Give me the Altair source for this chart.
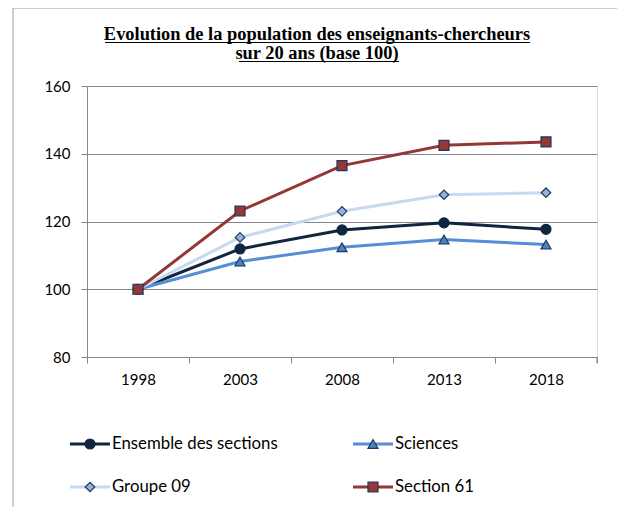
import altair as alt
import pandas as pd

years = ["1998", "2003", "2008", "2013", "2018"]
series = ["Ensemble des sections", "Sciences", "Groupe 09", "Section 61"]
ensemble = [100, 111.9, 117.5, 119.6, 117.7]
sciences = [100, 108.2, 112.4, 114.7, 113.2]
groupe09 = [100, 115.3, 123.0, 127.9, 128.5]
section61 = [100, 123.1, 136.5, 142.5, 143.5]
title_lines = ["Evolution de la population des enseignants-chercheurs",
               "sur 20 ans (base 100)"]
y_ticks = [80, 100, 120, 140, 160]

values = [ensemble, sciences, groupe09, section61]
line_colors = ["#10253f", "#558ed5", "#c6d9f1", "#953735"]
fill_colors = ["#10253f", "#4f81bd", "#95b3d7", "#953735"]
stroke_colors = ["#10253f", "#1f3864", "#1f3864", "#1f3864"]
shapes = ["circle", "triangle-up", "diamond", "square"]
sizes = [100, 100, 90, 100]

W, H = 510, 271
GRID = "#868686"
FONT = "Lato"

x_enc = alt.X("year:O", sort=years,
              scale=alt.Scale(domain=years, paddingInner=0, paddingOuter=0),
              axis=alt.Axis(title=None, labelAngle=0, tickBand="extent", grid=False,
                            domainColor=GRID, tickColor=GRID, tickSize=6,
                            labelFont=FONT, labelFontSize=15, labelColor="black",
                            labelPadding=9))
y_enc = alt.Y("value:Q", scale=alt.Scale(domain=[80, 160], nice=False, zero=False),
              axis=alt.Axis(title=None, values=y_ticks, grid=True, gridColor=GRID,
                            gridWidth=1, domainColor=GRID, tickColor=GRID, tickSize=6,
                            labelFont=FONT, labelFontSize=15, labelColor="black",
                            labelPadding=11))

layers = []

# outer frame
frame = alt.Chart(pd.DataFrame({"a": [0]})).mark_rect(
    fill=None, stroke="#a0a0a0", strokeWidth=1
).encode(x=alt.value(-74), x2=alt.value(534), y=alt.value(-78), y2=alt.value(440))
layers.append(frame)

for i, name in enumerate(series):
    df = pd.DataFrame({"year": years, "value": values[i], "series": name})
    base = alt.Chart(df)
    layers.append(base.mark_line(color=line_colors[i], strokeWidth=3).encode(x=x_enc, y=y_enc))
for i, name in enumerate(series):
    df = pd.DataFrame({"year": years, "value": values[i], "series": name})
    base = alt.Chart(df)
    layers.append(base.mark_point(shape=shapes[i], filled=True, fill=fill_colors[i],
                                  stroke=stroke_colors[i], strokeWidth=1.2, size=sizes[i],
                                  opacity=1).encode(x=x_enc, y=y_enc))

# title (text with underline rules)
tdf = pd.DataFrame({"t": title_lines, "yy": [-46, -27]})
layers.append(alt.Chart(tdf).mark_text(font="Liberation Serif", fontWeight="bold",
                                       fontSize=18.4, align="center", baseline="alphabetic",
                                       color="black").encode(
    text="t:N", x=alt.value(230), y=alt.Y("yy:Q", scale=None)))
udf = pd.DataFrame({"x1": [18, 152], "x2": [443, 312], "yy": [-43.5, -24.5]})
layers.append(alt.Chart(udf).mark_rule(color="black", strokeWidth=1).encode(
    x=alt.X("x1:Q", scale=None), x2="x2:Q", y=alt.Y("yy:Q", scale=None)))
# x-axis closing tick at right end
layers.append(alt.Chart(pd.DataFrame({"a": [0]})).mark_rule(color=GRID).encode(
    x=alt.value(W), y=alt.value(H), y2=alt.value(H + 6)))

# manual legend
rows = []
for i, name in enumerate(series):
    col, row = i % 2, i // 2
    x0 = -17 + col * 283
    rows.append({"series": name, "lx1": x0, "lx2": x0 + 40, "mx": x0 + 20,
                 "tx": x0 + 42, "ly": 358 + row * 43, "i": i})
leg = pd.DataFrame(rows)
for i, name in enumerate(series):
    d = leg[leg["i"] == i]
    b = alt.Chart(d)
    layers.append(b.mark_rule(color=line_colors[i], strokeWidth=3).encode(
        x=alt.X("lx1:Q", scale=None), x2="lx2:Q", y=alt.Y("ly:Q", scale=None)))
    layers.append(b.mark_point(shape=shapes[i], filled=True, fill=fill_colors[i],
                               stroke=stroke_colors[i], strokeWidth=1.2, size=sizes[i],
                               opacity=1).encode(
        x=alt.X("mx:Q", scale=None), y=alt.Y("ly:Q", scale=None)))
    layers.append(b.mark_text(font=FONT, fontSize=16.8, align="left", baseline="middle",
                              color="black").encode(
        text="series:N", x=alt.X("tx:Q", scale=None), y=alt.Y("ly:Q", scale=None)))

chart = alt.layer(*layers).properties(
    width=W, height=H,
    autosize=alt.AutoSizeParams(type="none"),
    padding={"left": 79, "top": 78, "right": 20, "bottom": 150},
).configure_view(stroke=None).configure(background="white")

chart.save("out.html", embed_options={"renderer": "svg", "actions": False})
